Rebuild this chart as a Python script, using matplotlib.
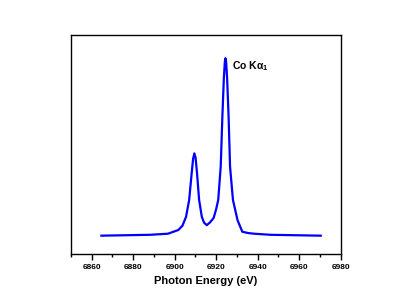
import numpy as np
import matplotlib
matplotlib.use('Agg')
import matplotlib.pyplot as plt
from matplotlib.ticker import MultipleLocator

plt.rcParams['font.family'] = ['Liberation Sans', 'DejaVu Sans']
plt.rcParams['mathtext.fontset'] = 'custom'
plt.rcParams['mathtext.bf'] = 'Liberation Sans:bold'

# Co K-alpha emission spectrum (arbitrary units)
energy = [6864.7, 6888.2, 6896.8, 6901.8, 6903.8, 6905.5, 6907.0, 6908.2,
          6908.9, 6909.5, 6910.1, 6910.8, 6911.8, 6913.1, 6914.2, 6915.5,
          6917.1, 6918.8, 6920.0, 6921.0, 6922.2, 6923.0, 6923.7, 6924.2,
          6924.5, 6924.8, 6925.3, 6926.0, 6926.7, 6928.1, 6930.3, 6932.6,
          6935.4, 6938.2, 6946.2, 6970.4]
intensity = [0.084, 0.088, 0.093, 0.110, 0.130, 0.170, 0.247, 0.368,
             0.435, 0.460, 0.440, 0.368, 0.247, 0.170, 0.143, 0.132,
             0.145, 0.165, 0.205, 0.247, 0.399, 0.627, 0.800, 0.880,
             0.894, 0.880, 0.800, 0.627, 0.399, 0.247, 0.155, 0.102,
             0.096, 0.093, 0.088, 0.084]

fig = plt.figure(figsize=(3.98, 3.05), dpi=100)
ax = fig.add_axes([0.178, 0.167, 0.678, 0.718])

ax.plot(energy, intensity, color='#0000ff', lw=1.6)
ax.text(6927.5, 0.858, r'Co K$\mathbf{\alpha_1}$', fontsize=7.5,
        fontweight='bold', va='center', ha='left')

ax.set_xlim(6850, 6980)
ax.set_ylim(0, 1)
ax.xaxis.set_major_locator(MultipleLocator(20))
ax.xaxis.set_minor_locator(MultipleLocator(10))
ax.set_yticks([])
ax.tick_params(axis='x', which='major', direction='out', length=4, width=1,
               labelsize=6, pad=3)
ax.tick_params(axis='x', which='minor', direction='out', length=2, width=1)
for lab in ax.get_xticklabels():
    lab.set_fontweight('bold')
for sp in ax.spines.values():
    sp.set_linewidth(1)
ax.set_xlabel('Photon Energy (eV)', fontsize=8, fontweight='bold', labelpad=4)

fig.savefig('out.png', dpi=100)
